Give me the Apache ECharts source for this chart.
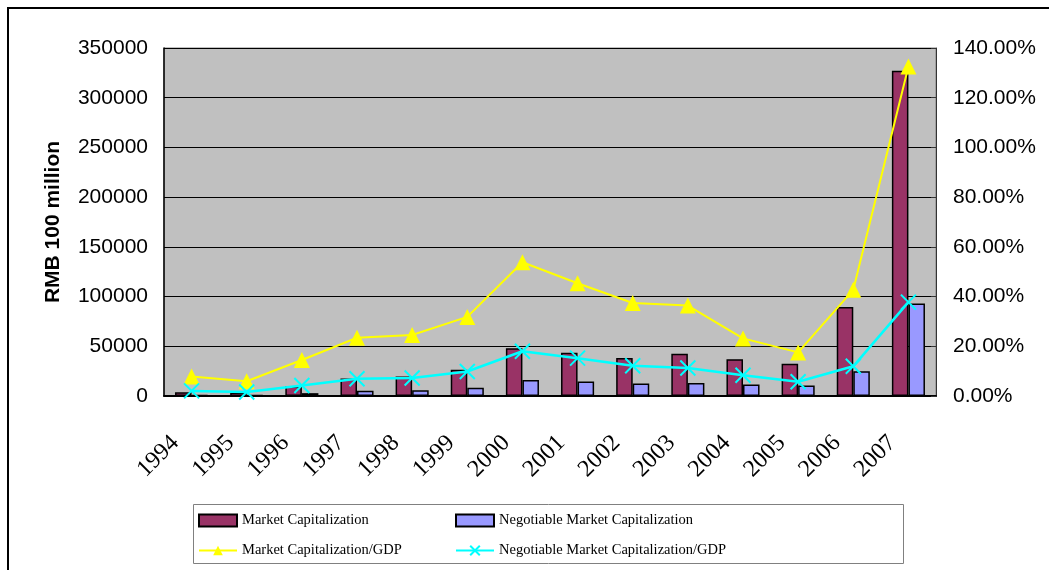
<!DOCTYPE html>
<html>
<head>
<meta charset="utf-8">
<script src="https://cdn.jsdelivr.net/npm/echarts@6/dist/echarts.min.js"></script>
<style>
html,body{margin:0;padding:0;background:#fff;}
#chart{width:1049px;height:570px;}
</style>
</head>
<body>
<div id="chart"></div>
<script>
// Data (RMB 100 million, and % of GDP)
var years = ['1994','1995','1996','1997','1998','1999','2000','2001','2002','2003','2004','2005','2006','2007'];
var marketCap = [3691, 3474, 9842, 17529, 19506, 26471, 48091, 43522, 38329, 42458, 37056, 32430, 89404, 327141];
var negotiableCap = [965, 938, 2867, 5204, 5746, 8214, 16088, 14463, 12485, 13179, 11689, 10631, 25004, 93064];
var capToGDP = [7.89, 5.94, 14.5, 23.44, 24.52, 31.82, 53.79, 45.37, 37.43, 36.38, 23.18, 17.54, 42.70, 132.6];
var negToGDP = [2.06, 1.60, 4.22, 6.96, 7.22, 9.87, 17.99, 15.23, 12.19, 11.29, 8.32, 5.75, 11.94, 37.75];
var leftTicks = {min: 0, max: 350000, interval: 50000};
var rightTicks = {min: 0, max: 140, interval: 20};
var names = ['Market Capitalization', 'Negotiable Market Capitalization', 'Market Capitalization/GDP', 'Negotiable Market Capitalization/GDP'];

var chart = echarts.init(document.getElementById('chart'), null, {renderer: 'canvas'});
var crossPath = 'path://M0,0L10,10M10,0L0,10';
var legendText = {fontFamily: 'Liberation Serif', fontSize: 14.5, color: '#000'};

var option = {
  animation: false,
  backgroundColor: '#fff',
  graphic: [
    {type: 'rect', shape: {x: 8, y: 8, width: 1200, height: 700}, style: {fill: 'none', stroke: '#000', lineWidth: 2}, silent: true, z: 0},
    {type: 'rect', shape: {x: 193.5, y: 504.5, width: 710, height: 59}, style: {fill: '#fff', stroke: '#808080', lineWidth: 1}, silent: true, z: 0}
  ],
  grid: {left: 164, right: 113, top: 48, bottom: 174, show: true, backgroundColor: '#c0c0c0', borderColor: '#808080', borderWidth: 1},
  legend: [
    {orient: 'vertical', left: 198, top: 513, itemWidth: 38, itemHeight: 12, itemGap: 15, padding: 0, itemStyle: {borderWidth: 2},
     textStyle: legendText, data: [{name: names[0], icon: 'rect'}, {name: names[2]}]},
    {orient: 'vertical', left: 455, top: 513, itemWidth: 38, itemHeight: 12, itemGap: 15, padding: 0, itemStyle: {borderWidth: 2},
     textStyle: legendText, data: [{name: names[1], icon: 'rect'}, {name: names[3]}]}
  ],
  xAxis: {
    type: 'category', data: years, boundaryGap: true,
    axisLine: {lineStyle: {color: '#000', width: 2}},
    axisTick: {inside: true, length: 6, lineStyle: {color: '#000'}},
    axisLabel: {rotate: 45, margin: 27, fontFamily: 'Liberation Serif', fontSize: 24, color: '#000',
      padding: [0, 23, 45, 0]}
  },
  yAxis: [
    {type: 'value', min: leftTicks.min, max: leftTicks.max, interval: leftTicks.interval,
     name: 'RMB 100 million', nameLocation: 'middle', nameGap: 100,
     nameTextStyle: {fontFamily: 'Liberation Sans', fontWeight: 'bold', fontSize: 21, color: '#000'},
     axisLine: {show: true, lineStyle: {color: '#000', width: 1.5}},
     axisTick: {show: true, inside: true, length: 5, lineStyle: {color: '#000'}},
     axisLabel: {margin: 16, fontFamily: 'Liberation Sans', fontSize: 21, color: '#000',
       formatter: function (v) { return String(v); }},
     splitLine: {show: true, lineStyle: {color: '#000', width: 1}}},
    {type: 'value', min: rightTicks.min, max: rightTicks.max, interval: rightTicks.interval, position: 'right',
     axisLine: {show: true, lineStyle: {color: '#333', width: 1}},
     axisTick: {show: true, inside: true, length: 5, lineStyle: {color: '#333'}},
     axisLabel: {margin: 17, fontFamily: 'Liberation Sans', fontSize: 21, color: '#000',
       formatter: function (v) { return v.toFixed(2) + '%'; }},
     splitLine: {show: false}}
  ],
  series: [
    {name: names[0], type: 'bar', data: marketCap, barGap: '0%', barCategoryGap: '40%',
     itemStyle: {color: '#993366', borderColor: '#000', borderWidth: 1.5}},
    {name: names[1], type: 'bar', data: negotiableCap, barGap: '0%', barCategoryGap: '40%',
     itemStyle: {color: '#9999ff', borderColor: '#000', borderWidth: 1.5}},
    {name: names[2], type: 'line', yAxisIndex: 1, data: capToGDP, symbol: 'triangle', symbolSize: 16,
     lineStyle: {color: '#ffff00', width: 2}, itemStyle: {color: '#ffff00'}, z: 5},
    {name: names[3], type: 'line', yAxisIndex: 1, data: negToGDP, symbol: crossPath, symbolSize: 15,
     lineStyle: {color: '#00ffff', width: 2.5}, itemStyle: {color: '#00ffff', borderColor: '#00ffff', borderWidth: 2}, z: 6}
  ]
};
chart.setOption(option);
</script>
</body>
</html>
